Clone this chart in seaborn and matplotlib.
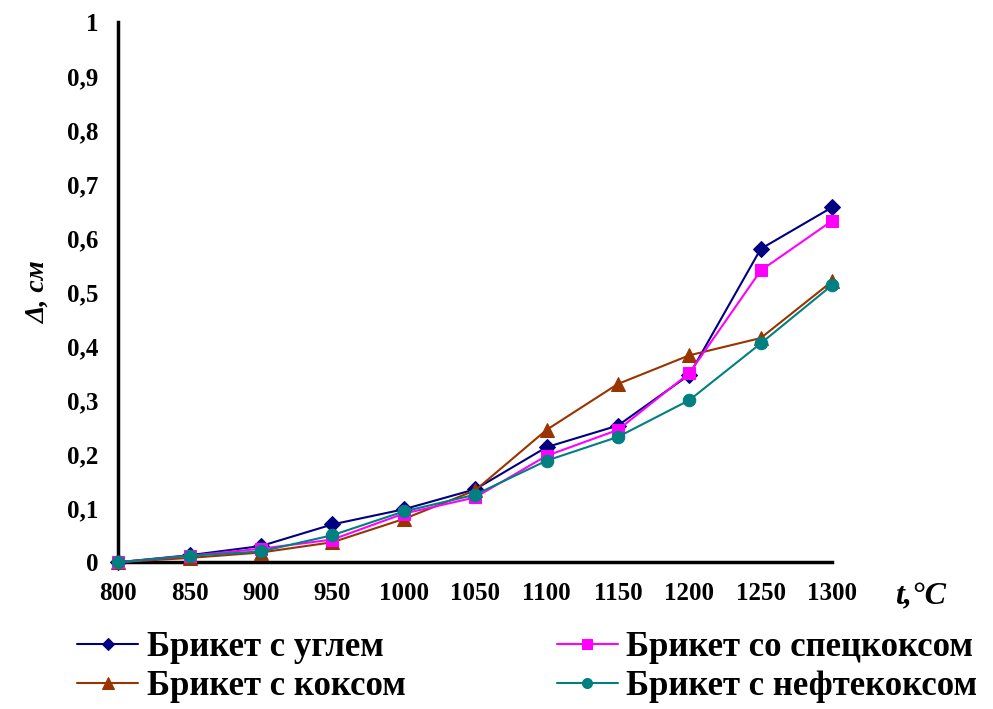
import numpy as np
import pandas as pd
import matplotlib
matplotlib.use('Agg')
import matplotlib.pyplot as plt
import seaborn as sns

temps = [800, 850, 900, 950, 1000, 1050, 1100, 1150, 1200, 1250, 1300]
ugol = [0, 0.013, 0.03, 0.07, 0.098, 0.135, 0.213, 0.253, 0.347, 0.58, 0.657]
speckoks = [0, 0.012, 0.025, 0.042, 0.09, 0.12, 0.197, 0.245, 0.35, 0.54, 0.632]
koks = [0, 0.008, 0.018, 0.037, 0.08, 0.133, 0.245, 0.33, 0.383, 0.415, 0.52]
neftekoks = [0, 0.012, 0.02, 0.05, 0.094, 0.125, 0.188, 0.232, 0.3, 0.405, 0.513]

names = ['Брикет с углем', 'Брикет с коксом', 'Брикет со спецкоксом', 'Брикет с нефтекоксом']
values = [ugol, koks, speckoks, neftekoks]
colors = ['#000080', '#993300', '#ff00ff', '#008080']
markers = ['D', '^', 's', 'o']
msizes = [8, 10, 9, 9]

yticks = [0, 0.1, 0.2, 0.3, 0.4, 0.5, 0.6, 0.7, 0.8, 0.9, 1]
ylabels = ['0', '0,1', '0,2', '0,3', '0,4', '0,5', '0,6', '0,7', '0,8', '0,9', '1']

sns.set_style('white')
plt.rcParams['font.family'] = ['Liberation Serif', 'DejaVu Serif']
plt.rcParams['font.weight'] = 'bold'
plt.rcParams['text.color'] = 'black'

fig = plt.figure(figsize=(9.93, 7.09), dpi=100)
ax = fig.add_axes([0.119, 0.207, 0.719, 0.762])

for name, vals, c, m, ms in zip(names, values, colors, markers, msizes):
    df = pd.DataFrame({'t': temps, 'd': vals})
    sns.lineplot(data=df, x='t', y='d', ax=ax, color=c, marker=m, markersize=ms,
                 markeredgecolor=c, linewidth=1.5, label=name, legend=False, clip_on=False)

ax.set_xlim(800, 1300)
ax.set_ylim(0, 1)
ax.set_xticks(temps)
ax.set_xticklabels([str(t) for t in temps], fontsize=18, fontweight='bold')
ax.set_yticks(yticks)
ax.set_yticklabels(ylabels, fontsize=18, fontweight='bold')
ax.set_xlabel('')
ax.set_ylabel('Δ, см', fontsize=20, fontweight='bold', style='italic', labelpad=12, color='black')
for s in ['top', 'right']:
    ax.spines[s].set_visible(False)
for s in ['left', 'bottom']:
    ax.spines[s].set_linewidth(2.5)
    ax.spines[s].set_color('black')
ax.tick_params(axis='both', direction='out', length=6, width=2.5, colors='black',
               labelcolor='black', pad=8)
for sp in ax.spines.values():
    sp.set_zorder(0)

fig.text(0.927, 0.158, 't,°C', fontsize=23, fontweight='bold', style='italic', ha='center', va='center')

handles, labels = ax.get_legend_handles_labels()
fig.legend(handles, labels, loc='lower left', bbox_to_anchor=(0.078, 0.008), ncol=2,
           frameon=False, prop={'size': 25, 'weight': 'bold'}, handlelength=1.75,
           handletextpad=0.25, borderpad=0, borderaxespad=0,
           columnspacing=4.35, labelspacing=0.18, markerscale=0.8)

fig.savefig('out.png', dpi=100)
